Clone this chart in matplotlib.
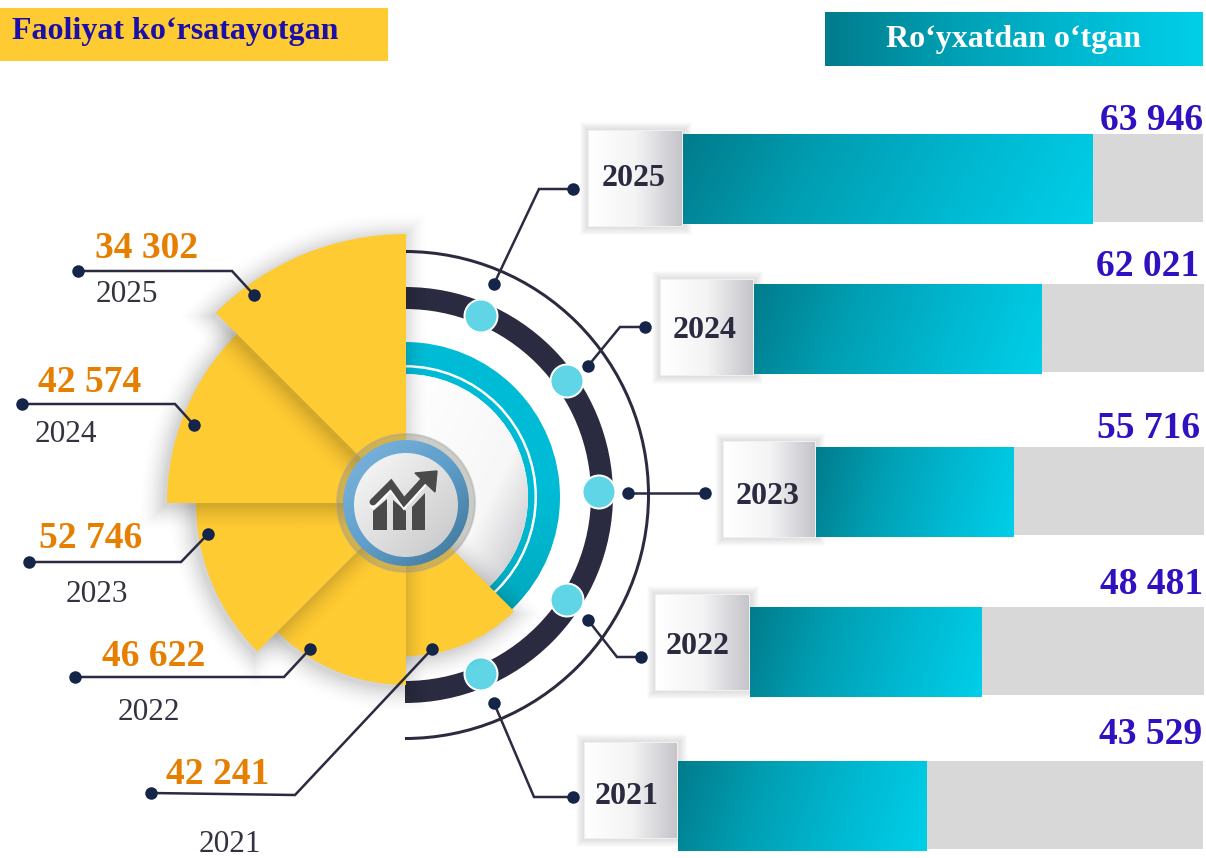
import numpy as np
import matplotlib
matplotlib.use('Agg')
import matplotlib.pyplot as plt
from matplotlib.colors import LinearSegmentedColormap
from matplotlib.patches import Circle, Polygon, Rectangle, Wedge

# Values
years = [2025, 2024, 2023, 2022, 2021]
active = [34302, 42574, 52746, 46622, 42241]
registered = [63946, 62021, 55716, 48481, 43529]
# teal part of each bar as a share of its grey track, the bars are not to scale
bar_share = [0.788, 0.64, 0.508, 0.511, 0.474]

title_left = 'Faoliyat ko‘rsatayotgan'
title_right = 'Ro‘yxatdan o‘tgan'

# Layout in pixels
W, H = 1206, 858
CX, CY = 406, 503
RING_Y = 495
sector_r = [269, 239, 210, 182, 153]
sector_start = [90, 135, 180, 225, 270]
track_x = [683, 754, 816, 750, 678]
track_end = [1203, 1204, 1204, 1204, 1203]
track_y = [134, 284, 447, 607, 761]
box_x = [589, 661, 724, 656, 585]
box_y = [131, 280, 442, 595, 743]
value_xy = [(147, 248), (90, 383), (91, 539), (154, 657), (218, 775)]
year_xy = [(127, 294), (66, 434), (97, 595), (149, 713), (230, 845)]
reg_xy = [(1203, 121), (1199, 266), (1200, 428), (1203, 585), (1202, 735)]
box_text_xy = [(634, 178), (705, 331), (768, 497), (698, 646), (627, 796)]
knob_xy = [(481, 316), (567, 381), (599, 492), (567, 600), (481, 674)]
left_leaders = [[(78, 271), (232, 271), (254, 295)],
                [(22, 404), (175, 404), (194, 425)],
                [(29, 562), (181, 562), (208, 534)],
                [(75, 677), (284, 677), (310, 649)],
                [(151, 793), (295, 795), (432, 649)]]
right_leaders = [[(494, 284), (539, 189), (573, 189)],
                 [(588, 366), (620, 327), (645, 327)],
                 [(628, 493), (705, 493)],
                 [(588, 620), (617, 657), (641, 657)],
                 [(494, 703), (534, 797), (573, 797)]]

YELLOW = '#FFCB33'
DARK = '#2A2A40'
DOT = '#15254A'
SERIF = 'Liberation Serif'

teal_cmap = LinearSegmentedColormap.from_list('teal', ['#007C8C', '#009FB3', '#00B8D1', '#00CFE8'])
box_cmap = LinearSegmentedColormap.from_list('box', ['#FFFFFF', '#F4F4F5', '#C4C4CA'])
disc_cmap = LinearSegmentedColormap.from_list('disc', [(0, '#8F8F93'), (0.2, '#D6D6D8'),
                                                       (0.4, '#F7F7F8'), (1, '#FFFFFF')])
blue_cmap = LinearSegmentedColormap.from_list('blue', ['#7FB6DF', '#5F9FCB', '#3F7396'])
icon_cmap = LinearSegmentedColormap.from_list('icon', ['#C6C6C8', '#FAFAFA'])
ring_cmap = LinearSegmentedColormap.from_list('ring', ['#00BBD5', '#00BBD5', '#00A3B5'])


def wedge(center, r, a1, a2, width=None, **kw):
    # angles are screen angles, the y axis is flipped
    return Wedge(center, r, -a2, -a1, width=width, **kw)


def gradient(ax, x0, x1, y0, y1, cmap, tilt=0.0, clip=None, zorder=1, vertical=False):
    xx, yy = np.meshgrid(np.linspace(0, 1, 200), np.linspace(0, 1, 100))
    grid = yy if vertical else xx + tilt * yy
    im = ax.imshow(grid, extent=(x0, x1, y1, y0), cmap=cmap, aspect='auto', zorder=zorder,
                   interpolation='bilinear', vmin=0, vmax=1 if vertical else 1 + tilt)
    if clip is not None:
        im.set_clip_path(clip)
    return im


def sector_shadow(ax, r, a1, a2, zorder, blur=28, strength=0.17):
    yy, xx = np.mgrid[0:H, 0:W] + 0.5
    dx = xx - (CX - 3)
    dy = yy - (CY + 3)
    rad = np.hypot(dx, dy)
    ang = np.degrees(np.arctan2(-dy, dx)) % 360
    mid = (a1 + a2) / 2
    off = np.maximum(np.abs((ang - mid + 180) % 360 - 180) - (a2 - a1) / 2, 0)
    dist = np.maximum(rad - r, rad * np.radians(off))
    rgba = np.zeros((H, W, 4))
    rgba[..., 3] = strength * np.clip(1 - dist / blur, 0, 1) ** 2
    ax.imshow(rgba, extent=(0, W, H, 0), aspect='auto', zorder=zorder)


def draw_rings(ax):
    centre = (405, RING_Y)
    ax.add_patch(wedge(centre, 245, -90, 90, width=3, fc=DARK, ec='none', zorder=2))
    ax.add_patch(wedge(centre, 208, -90, 90, width=22, fc=DARK, ec='none', zorder=2))

    ring = wedge((405, 497), 155, -90, 90, width=32, fc='none', ec='none', zorder=3)
    ax.add_patch(ring)
    gradient(ax, 405, 560, 342, 652, ring_cmap, clip=ring, zorder=3, vertical=True)
    ax.add_patch(wedge((405, 497), 132, -90, 90, width=2.5, fc='white', ec='none', zorder=3.1))

    disc = wedge((405, 497), 123, -90, 90, fc='none', ec='none', zorder=3)
    ax.add_patch(disc)
    gradient(ax, 528, 405, 620, 374, disc_cmap, tilt=1.0, clip=disc, zorder=3)

    for x, y in knob_xy:
        ax.add_patch(Circle((x, y), 17.5, fc='white', ec='none', zorder=4))
        ax.add_patch(Circle((x, y), 15.5, fc='#5FD5E5', ec='none', zorder=4.1))


def draw_sectors(ax):
    base = 5
    for i in range(len(years) - 1, -1, -1):
        a1 = sector_start[i]
        a2 = a1 + 45
        sector_shadow(ax, sector_r[i], a1, a2, base)
        ax.add_patch(wedge((CX, CY), sector_r[i], a1, a2, fc=YELLOW, ec='none',
                           zorder=base + 0.1))
        base += 1


def draw_icon(ax):
    z = 12
    ax.add_patch(Circle((CX, CY), 69, fc='#8A8A7A', ec='#A0A0A0', lw=1.5, alpha=0.4, zorder=z))
    ring = Circle((CX, CY), 63, fc='none', ec='none', zorder=z)
    ax.add_patch(ring)
    gradient(ax, CX - 63, CX + 63, CY - 63, CY + 63, blue_cmap, tilt=1.0, clip=ring, zorder=z)
    disc = Circle((CX, CY + 2), 52, fc='none', ec='none', zorder=z + 1)
    ax.add_patch(disc)
    gradient(ax, CX + 52, CX - 52, CY + 54, CY - 50, icon_cmap, tilt=1.0, clip=disc, zorder=z + 1)

    # chart glyph, offsets from the icon centre
    c = '#4A4A4A'
    for dx0, dx1, t0, t1 in [(-33, -19, 8, -4), (-13, 0, -3, 8), (6, 19, 4, -10)]:
        ax.add_patch(Polygon([(CX + dx0, CY + 27), (CX + dx0, CY + t0), (CX + dx1, CY + t1),
                              (CX + dx1, CY + 27)], fc=c, ec='none', zorder=z + 2))
    ax.plot([CX - 33, CX - 15, CX - 2, CX + 17], [CY + 3, CY - 15, CY + 3, CY - 18],
            color='white', lw=4, solid_capstyle='round', solid_joinstyle='miter', zorder=z + 2)
    ax.plot([CX - 33, CX - 15, CX - 2, CX + 17], [CY - 1, CY - 19, CY - 1, CY - 22],
            color=c, lw=5, solid_capstyle='round', solid_joinstyle='miter', zorder=z + 3)
    ax.add_patch(Polygon([(CX + 9, CY - 30), (CX + 31, CY - 32), (CX + 29, CY - 11)],
                         fc=c, ec=c, lw=1, zorder=z + 3))


def draw_leaders(ax):
    for pts in left_leaders + right_leaders:
        xs, ys = zip(*pts)
        ax.plot(xs, ys, color=DARK, lw=1.8, zorder=15, solid_joinstyle='miter')
        ax.plot([xs[0], xs[-1]], [ys[0], ys[-1]], 'o', color=DOT, ms=9, mew=0, zorder=16)


def draw_bars(ax):
    bar_h = 90
    for i, year in enumerate(years):
        x0, x1, y0 = track_x[i], track_end[i], track_y[i]
        ax.add_patch(Rectangle((x0, y0), x1 - x0, bar_h - 2, fc='#D8D8D8', ec='none', zorder=2))
        gradient(ax, x0, x0 + bar_share[i] * (x1 - x0), y0, y0 + bar_h, teal_cmap,
                 tilt=0.12, zorder=3)

        bx, by = box_x[i], box_y[i]
        bw = x0 - bx
        for k in range(8):
            ax.add_patch(Rectangle((bx - 9 + k, by - 9 + k), bw + 18 - 2 * k, 95 + 18 - 2 * k,
                                   fc='#8A8A8A', ec='none', alpha=0.03, zorder=2.5))
        ax.add_patch(Rectangle((bx - 1, by - 1), bw + 1, 97, fc='#F0F0F0', ec='none', zorder=3.5))
        gradient(ax, bx, x0 - 1, by, by + 95, box_cmap, zorder=3.6)
        ax.text(*box_text_xy[i], str(year), family=SERIF, weight='bold', size=23,
                color=DARK, ha='center', va='center', zorder=5)
        ax.text(*reg_xy[i], fmt(registered[i]), family=SERIF, weight='bold', size=27,
                color='#3010C0', ha='right', va='center', zorder=5)


def fmt(v):
    return f'{v:,}'.replace(',', ' ')


def main():
    fig = plt.figure(figsize=(W / 100, H / 100), dpi=100)
    ax = fig.add_axes([0, 0, 1, 1])

    # Headers
    ax.add_patch(Rectangle((0, 8), 388, 53, fc=YELLOW, ec='none', zorder=1))
    ax.text(12, 31, title_left, family=SERIF, weight='bold', size=23, color='#1A0FA8',
            va='center', zorder=2)
    gradient(ax, 825, 1203, 12, 66, teal_cmap, zorder=1)
    ax.text(1014, 40, title_right, family=SERIF, weight='bold', size=23, color='white',
            ha='center', va='center', zorder=2)

    draw_rings(ax)
    draw_sectors(ax)
    draw_icon(ax)
    draw_leaders(ax)
    draw_bars(ax)

    for i, year in enumerate(years):
        ax.text(*value_xy[i], fmt(active[i]), family=SERIF, weight='bold', size=27,
                color='#E67E00', ha='center', va='center', zorder=20)
        ax.text(*year_xy[i], str(year), family=SERIF, size=22.5, color='#333340',
                ha='center', va='center', zorder=20)

    ax.set_xlim(0, W)
    ax.set_ylim(H, 0)
    ax.axis('off')
    fig.savefig('out.png', dpi=100)


if __name__ == '__main__':
    main()
